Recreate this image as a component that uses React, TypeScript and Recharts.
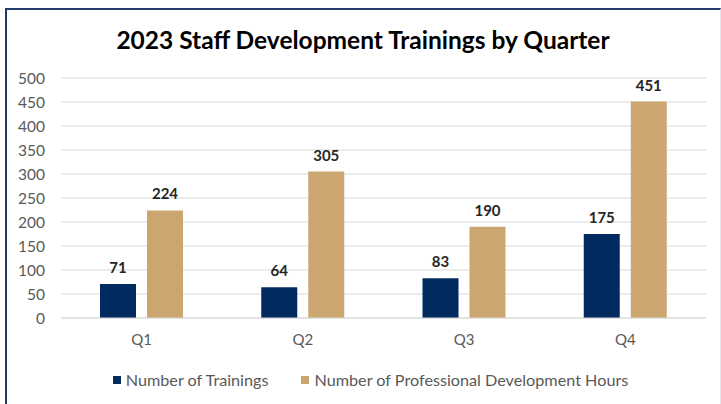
import React from 'react';
import { BarChart, Bar, XAxis, YAxis, CartesianGrid, Legend, LabelList } from 'recharts';

const quarters = ['Q1', 'Q2', 'Q3', 'Q4'];
const trainings = [71, 64, 83, 175];
const pdHours = [224, 305, 190, 451];
const yTicks = [0, 50, 100, 150, 200, 250, 300, 350, 400, 450, 500];
const legendOrder = ['Number of Trainings', 'Number of Professional Development Hours'];

const NAVY = '#012B5F';
const TAN = '#CBA670';
const FONT = 'Lato, "Open Sans", sans-serif';

const data = quarters.map((q, i) => ({
  quarter: q,
  trainings: trainings[i],
  hours: pdHours[i],
}));

const renderLegend = (props: any) => {
  const items = [...(props.payload || [])].sort(
    (a: any, b: any) => legendOrder.indexOf(a.value) - legendOrder.indexOf(b.value)
  );
  return (
    <div style={{ display: 'flex', justifyContent: 'center', fontFamily: FONT, fontSize: 16.2, color: '#595959' }}>
      {items.map((entry: any, i: number) => (
        <div key={i} style={{ display: 'flex', alignItems: 'center', marginLeft: i === 0 ? 0 : 33 }}>
          <span style={{ display: 'inline-block', width: 8, height: 8, background: entry.color, marginRight: 5 }} />
          <span>{entry.value}</span>
        </div>
      ))}
    </div>
  );
};

const App: React.FC = () => {
  return (
    <div style={{ position: 'absolute', left: 0, top: 0, width: 721, height: 404, background: '#fff' }}>
      <div
        style={{
          position: 'absolute',
          left: 5,
          top: 8,
          width: 716,
          height: 396,
          boxSizing: 'border-box',
          borderTop: '2px solid #1F3A6B',
          borderLeft: '2px solid #1F3A6B',
          borderRight: '1px solid #E2E7EF',
        }}
      />
      <div
        style={{
          position: 'absolute',
          left: 5,
          width: 716,
          top: 25,
          textAlign: 'center',
          fontFamily: FONT,
          fontWeight: 700,
          fontSize: 24.5,
          color: '#000',
        }}
      >
        2023 Staff Development Trainings by Quarter
      </div>
      <div style={{ position: 'absolute', left: 0, top: 0 }}>
        <BarChart
          width={721}
          height={404}
          data={data}
          margin={{ top: 78, right: 15, bottom: 46, left: 0 }}
          barSize={36}
          barGap={11}
        >
          <CartesianGrid vertical={false} stroke="#D9D9D9" />
          <XAxis
            dataKey="quarter"
            height={40}
            tickLine={false}
            tickSize={0}
            tickMargin={16}
            axisLine={{ stroke: '#D9D9D9' }}
            tick={{ fill: '#595959', fontSize: 15, fontFamily: FONT }}
          />
          <YAxis
            width={61}
            domain={[0, 500]}
            ticks={yTicks}
            axisLine={false}
            tickLine={false}
            tickSize={0}
            tickMargin={16}
            tick={{ fill: '#595959', fontSize: 15.5, fontFamily: FONT }}
          />
          <Legend
            layout="horizontal"
            verticalAlign="middle"
            align="center"
            wrapperStyle={{ position: 'absolute', left: 10, top: 370, width: 721 }}
            content={renderLegend}
          />
          <Bar dataKey="trainings" name="Number of Trainings" fill={NAVY} isAnimationActive={false}>
            <LabelList dataKey="trainings" position="top" offset={11} fill="#262626" fontSize={15} fontWeight={700} fontFamily={FONT} />
          </Bar>
          <Bar dataKey="hours" name="Number of Professional Development Hours" fill={TAN} isAnimationActive={false}>
            <LabelList dataKey="hours" position="top" offset={11} fill="#262626" fontSize={15} fontWeight={700} fontFamily={FONT} />
          </Bar>
        </BarChart>
      </div>
    </div>
  );
};

export default App;
